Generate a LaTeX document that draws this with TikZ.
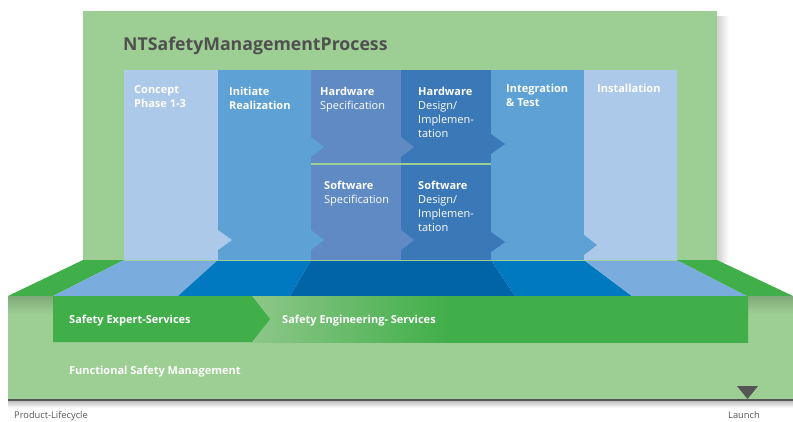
\documentclass[tikz,border=0pt]{standalone}
\usepackage{fontspec}
\setmainfont{Open Sans}
\definecolor{bgreen}{HTML}{9DCE93}
\definecolor{dgreen}{HTML}{40AE49}
\definecolor{lgbar}{HTML}{8DC788}
\definecolor{cConcept}{HTML}{ADC9E9}
\definecolor{cInit}{HTML}{5DA1D5}
\definecolor{cHW}{HTML}{5F8AC4}
\definecolor{cHWD}{HTML}{3B78B8}
\definecolor{fConcept}{HTML}{7AADDD}
\definecolor{fInit}{HTML}{0079C0}
\definecolor{fHW}{HTML}{0064A6}
\definecolor{darkgray}{HTML}{555555}
\definecolor{titlegray}{HTML}{505050}
\pgfdeclarehorizontalshading{barshade}{100bp}{color(0bp)=(lgbar); color(25bp)=(lgbar); color(45bp)=(dgreen); color(100bp)=(dgreen)}
\begin{document}
\begin{tikzpicture}[x=1pt,y=-1pt,
  coltxt/.style={anchor=base west, inner sep=0pt, text=white, font=\fontsize{11}{14}\selectfont, align=left},
  bartxt/.style={anchor=base west, inner sep=0pt, text=white, font=\fontsize{11}{14}\selectfont\bfseries},
  smalltxt/.style={anchor=base west, inner sep=0pt, text=darkgray, font=\fontsize{9.3}{11}\selectfont}]
\useasboundingbox (0,0) rectangle (793,421);
\fill[white] (0,0) rectangle (793,421);
% back panel with shadow
\shade[left color=black!18, right color=white] (717,16) rectangle (729,262);
\fill[bgreen] (83,11) rectangle (717,262);
\node[anchor=base west, inner sep=0pt, text=titlegray, font=\fontsize{17.7}{20}\selectfont\bfseries] (title) at (123,50) {NTSafetyManagementProcess};
% columns
\fill[cConcept] (124,70) rectangle (218,260);
\fill[cInit] (218,70) rectangle (311,260);
\fill[cHW] (311,70) rectangle (401,260);
\fill[cHWD] (401,70) rectangle (491,260);
\fill[cInit] (491,70) rectangle (584,260);
\fill[cConcept] (584,70) rectangle (677,260);
% tips
\fill[cConcept] (218,230) -- (232,240) -- (218,250) -- cycle;
\fill[cInit] (311,137) -- (324,147) -- (311,157) -- cycle;
\fill[cInit] (311,230) -- (324,240) -- (311,250) -- cycle;
\fill[cHW] (401,137) -- (414,147) -- (401,157) -- cycle;
\fill[cHW] (401,230) -- (414,240) -- (401,250) -- cycle;
\fill[cHWD] (491,134) -- (505,144) -- (491,154) -- cycle;
\fill[cHWD] (491,232) -- (505,242) -- (491,252) -- cycle;
\fill[cInit] (584,235) -- (597,245) -- (584,255) -- cycle;
\draw[bgreen, line width=1.5] (311,164) -- (491,164);
% column texts (anchor = baseline of last line)
\node[coltxt] (concept) at (134,107) {\textbf{Concept}\\\textbf{Phase 1-3}};
\node[coltxt] (initiate) at (229,109) {\textbf{Initiate}\\\textbf{Realization}};
\node[coltxt] (hwspec) at (320,109) {\textbf{Hardware}\\Specification};
\node[coltxt] (hwdes) at (418,137) {\textbf{Hardware}\\Design/\\Implemen-\\tation};
\node[coltxt] (swspec) at (324,203) {\textbf{Software}\\Specification};
\node[coltxt] (swdes) at (418,231) {\textbf{Software}\\Design/\\Implemen-\\tation};
\node[coltxt] (integ) at (506,106) {\textbf{Integration}\\\textbf{\& Test}};
\node[coltxt] (install) at (597,92) {\textbf{Installation}};
% floor
\fill[dgreen] (83,260) -- (124,260) -- (53,296) -- (8,296) -- cycle;
\fill[fConcept] (124,260) -- (218,260) -- (178,296) -- (53,296) -- cycle;
\fill[fInit] (218,260) -- (311,260) -- (290,296) -- (178,296) -- cycle;
\fill[fHW] (311,260) -- (401,260) -- (401,296) -- (290,296) -- cycle;
\fill[fHW] (401,260) -- (491,260) -- (515,296) -- (401,296) -- cycle;
\fill[fInit] (491,260) -- (584,260) -- (632,296) -- (515,296) -- cycle;
\fill[fConcept] (584,260) -- (677,260) -- (747,296) -- (632,296) -- cycle;
\fill[dgreen] (677,260) -- (717,260) -- (793,296) -- (747,296) -- cycle;
\draw[bgreen, line width=0.6] (124,260) -- (677,260);
% front face
\fill[bgreen] (8,296) rectangle (793,400);
\shade[top color=bgreen!82!black, bottom color=bgreen] (8,296) rectangle (793,314);
\shade[top color=black!28, bottom color=white] (8,400) rectangle (793,408);
\draw[darkgray, line width=1.2] (8,400) -- (793,400);
% bar
\shade[shading=barshade] (252,296) rectangle (748,342);
\fill[dgreen] (53,296) -- (252,296) -- (270,319) -- (252,342) -- (53,342) -- cycle;
\node[bartxt] (expert) at (69,323) {Safety Expert-Services};
\node[bartxt] (engineering) at (282,323) {Safety Engineering- Services};
\node[bartxt] (fsm) at (69,374) {Functional Safety Management};
% marker
\fill[darkgray] (737,386) -- (758,386) -- (747.5,399) -- cycle;
\node[smalltxt] (plc) at (14,418) {Product-Lifecycle};
\node[smalltxt] (launch) at (728,418) {Launch};
\end{tikzpicture}
\end{document}
